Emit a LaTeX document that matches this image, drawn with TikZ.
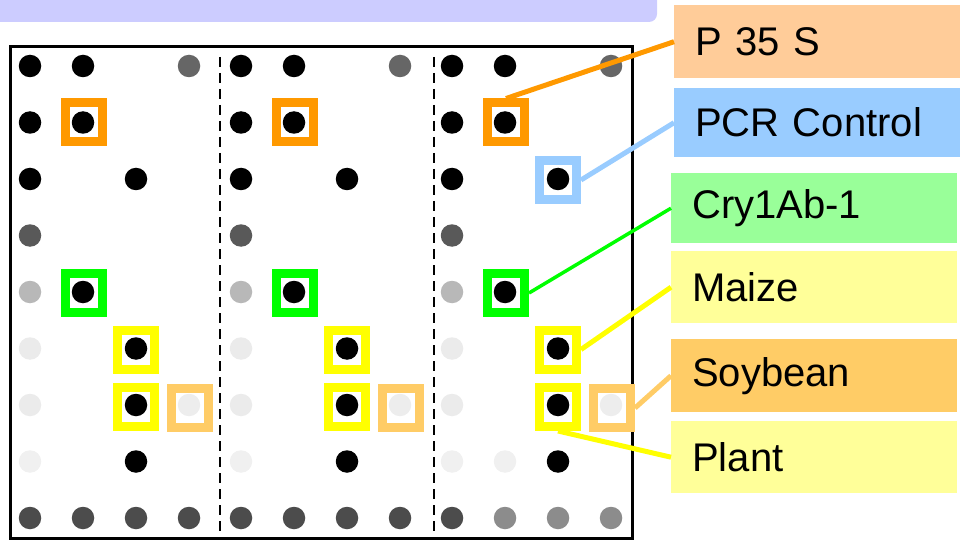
\documentclass[tikz,border=0pt]{standalone}
\usepackage{fontspec}
\setmainfont{Liberation Sans}
\usetikzlibrary{positioning}
\definecolor{spotbanner}{HTML}{CCCCFF}
\definecolor{spotorange}{HTML}{FF9900}
\definecolor{spotblue}{HTML}{99CCFF}
\definecolor{spotgreen}{HTML}{00FF00}
\definecolor{spotyellow}{HTML}{FFFF00}
\definecolor{spotsoy}{HTML}{FFCC66}
\definecolor{tagpeach}{HTML}{FFCC99}
\definecolor{tagblue}{HTML}{99CCFF}
\definecolor{taggreen}{HTML}{99FF99}
\definecolor{tagyellow}{HTML}{FFFF99}
\definecolor{tagsoy}{HTML}{FFCC66}

\begin{document}
\begin{tikzpicture}[
  x=1pt,y=-1pt,
  spot/.style={circle,inner sep=0pt,minimum size=22.5pt},
  hlbox/.style={rectangle,inner sep=0pt,minimum width=37pt,minimum height=39pt,line width=9pt},
  tagbox/.style={rectangle,anchor=north west,inner xsep=21pt,minimum width=286pt,text width=244pt,align=left,font=\fontsize{40}{46}\selectfont},
  conn/.style={line width=5pt}
]
\useasboundingbox (0,0) rectangle (966,548);
\fill[spotbanner,rounded corners=8pt] (-20,-40) rectangle (657,22);

% membrane
\draw[line width=3pt] (10,47) rectangle (632,538);
\draw[line width=2.5pt,dash pattern=on 10pt off 6pt] (220,57) -- (220,533);
\draw[line width=2.5pt,dash pattern=on 10pt off 6pt] (434,57) -- (434,533);

% spots, same layout in the three panels
\foreach \p in {0,1,2} {
  \foreach \r/\c/\s in {1/1/black,1/2/black,1/4/black!60,2/1/black,2/2/black,
      3/1/black,3/3/black,4/1/black!65,5/1/black!28,5/2/black,6/1/black!8,
      6/3/black,7/1/black!8,7/3/black,7/4/black!7,8/1/black!6,8/3/black}
    \node[spot,fill=\s] (d\p-\r-\c) at ({30+211*\p+53*(\c-1)},{66+56.5*(\r-1)}) {};
}
\node[spot,fill=black!6] (d2-8-2) at (505,461.5) {};
\foreach \p/\s in {0/black!70,1/black!70,2/black!45} {
  \node[spot,fill=black!70] (d\p-9-1) at ({30+211*\p},518) {};
  \foreach \c in {2,3,4}
    \node[spot,fill=\s] (d\p-9-\c) at ({30+211*\p+53*(\c-1)},518) {};
}

% highlight boxes
\foreach \p in {0,1,2} {
  \node[hlbox,draw=spotorange] (pro\p) at ([xshift=1pt]d\p-2-2) {};
  \node[hlbox,draw=spotgreen] (cry\p) at ([xshift=1pt,yshift=-1pt]d\p-5-2) {};
  \node[hlbox,draw=spotyellow] (mai\p) at ([yshift=-1pt]d\p-6-3) {};
  \node[hlbox,draw=spotyellow] (pla\p) at ([yshift=-2pt]d\p-7-3) {};
  \node[hlbox,draw=spotsoy] (soy\p) at ([xshift=1pt,yshift=-3pt]d\p-7-4) {};
}
\node[hlbox,draw=spotblue] (pcr) at ([yshift=-1pt]d2-3-3) {};

% legend
\node[tagbox,fill=tagpeach,minimum height=73pt] (p35) at (674,5) {P 35 S};
\node[tagbox,fill=tagblue,minimum height=69pt] (ctrl) at (674,88) {PCR Control};
\node[tagbox,fill=taggreen,minimum height=70pt] (cry) at (671,173) {Cry1Ab-1};
\node[tagbox,fill=tagyellow,minimum height=72pt] (maize) at (671,251) {Maize};
\node[tagbox,fill=tagsoy,minimum height=73pt] (soy) at (671,339) {Soybean};
\node[tagbox,fill=tagyellow,minimum height=72pt] (plant) at (671,421) {Plant};

\draw[conn,spotorange] (pro2.north) -- (p35.west);
\draw[conn,spotblue] (pcr.east) -- (ctrl.west);
\draw[conn,spotgreen,line width=3.5pt] (cry2.east) -- (cry.west);
\draw[conn,spotyellow] (mai2.east) -- (maize.west);
\draw[conn,spotsoy] (soy2.east) -- (soy.west);
\draw[conn,spotyellow] (pla2.south) -- (plant.west);
\end{tikzpicture}
\end{document}
